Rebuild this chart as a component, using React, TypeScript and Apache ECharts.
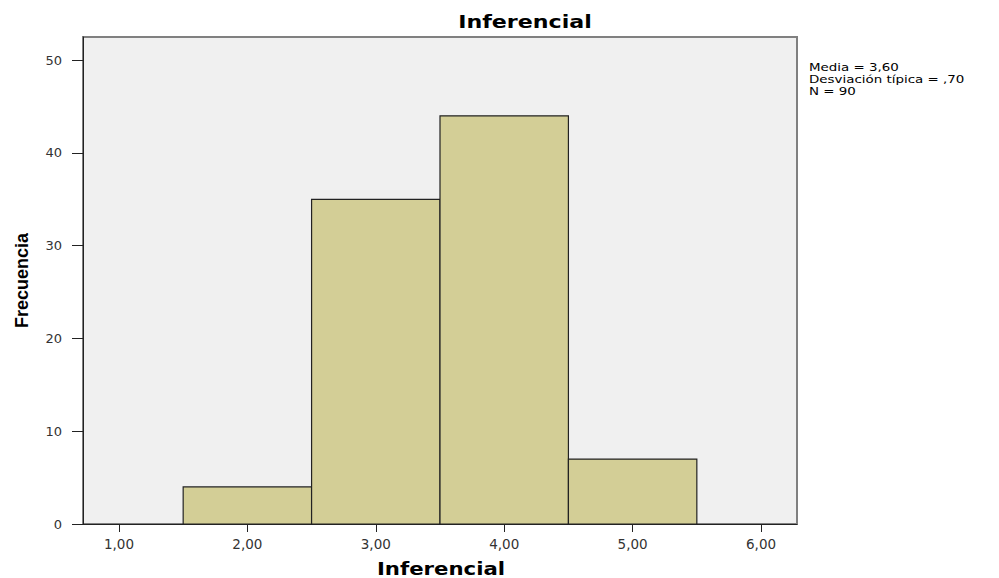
import React, { useEffect, useRef } from "react";
import * as echarts from "echarts";

const binStarts = [1.5, 2.5, 3.5, 4.5];
const binEnds = [2.5, 3.5, 4.5, 5.5];
const counts = [4, 35, 44, 7];
const xTicks = [1, 2, 3, 4, 5, 6];
const yTicks = [0, 10, 20, 30, 40, 50];
const statsLines = ["Media = 3,60", "Desviación típica = ,70", "N = 90"];
const titleText = "Inferencial";
const xName = "Inferencial";
const yName = "Frecuencia";

export default function App() {
  const ref = useRef<HTMLDivElement>(null);
  useEffect(() => {
    if (!ref.current) return;
    const chart = echarts.init(ref.current, null, { renderer: "svg" });
    const data = binStarts.map((s, i) => [s, binEnds[i], counts[i]]);
    chart.setOption({
      animation: false,
      backgroundColor: "#ffffff",
      grid: {
        left: 83,
        right: 202,
        top: 37,
        bottom: 54,
        show: true,
        backgroundColor: "#f0f0f0",
        borderColor: "#808080",
        borderWidth: 2,
      },
      xAxis: {
        type: "value",
        min: 0.72,
        max: 6.28,
        axisLine: { show: true, onZero: false, lineStyle: { color: "#222", width: 1 } },
        axisTick: { show: true, customValues: xTicks, length: 8, lineStyle: { color: "#222" } },
        axisLabel: {
          customValues: xTicks,
          margin: 13,
          color: "#333",
          fontFamily: "DejaVu Sans",
          fontSize: 13.5,
          formatter: (v: number) => v.toFixed(2).replace(".", ","),
        },
        splitLine: { show: false },
      },
      yAxis: {
        type: "value",
        min: 0,
        max: 52.5,
        name: yName,
        nameLocation: "middle",
        nameGap: 52,
        nameTextStyle: {
          fontFamily: "Liberation Sans",
          fontWeight: "bold",
          fontSize: 18,
          color: "#000",
        },
        axisLine: { show: true, lineStyle: { color: "#222", width: 1 } },
        axisTick: { show: true, customValues: yTicks, length: 11, lineStyle: { color: "#222" } },
        axisLabel: {
          customValues: yTicks,
          margin: 21,
          color: "#333",
          fontFamily: "DejaVu Sans",
          fontSize: 13,
        },
        splitLine: { show: false },
      },
      graphic: [
        {
          type: "text",
          x: 525,
          y: 22,
          scaleX: 1.23,
          style: {
            text: titleText,
            fontFamily: "DejaVu Sans",
            fontWeight: "bold",
            fontSize: 18,
            fill: "#000",
            align: "center",
            verticalAlign: "middle",
          },
        },
        {
          type: "text",
          x: 441,
          y: 569,
          scaleX: 1.25,
          style: {
            text: xName,
            fontFamily: "DejaVu Sans",
            fontWeight: "bold",
            fontSize: 17,
            fill: "#000",
            align: "center",
            verticalAlign: "middle",
          },
        },
        {
          type: "text",
          x: 809,
          y: 61,
          scaleX: 1.22,
          style: {
            text: statsLines.join("\n"),
            fontFamily: "DejaVu Sans",
            fontSize: 11,
            lineHeight: 12,
            fill: "#000",
            align: "left",
            verticalAlign: "top",
          },
        },
      ],
      series: [
        {
          type: "custom",
          data,
          encode: { x: [0, 1], y: 2 },
          renderItem: (params: any, api: any) => {
            const p0 = api.coord([api.value(0), api.value(2)]);
            const p1 = api.coord([api.value(1), 0]);
            return {
              type: "rect",
              shape: { x: p0[0], y: p0[1], width: p1[0] - p0[0], height: p1[1] - p0[1] },
              style: { fill: "#d3ce96", stroke: "#222", lineWidth: 1.2 },
            };
          },
        },
      ],
    });
    return () => chart.dispose();
  }, []);
  return <div ref={ref} style={{ width: 999, height: 578, position: "absolute", left: 0, top: 0 }} />;
}
